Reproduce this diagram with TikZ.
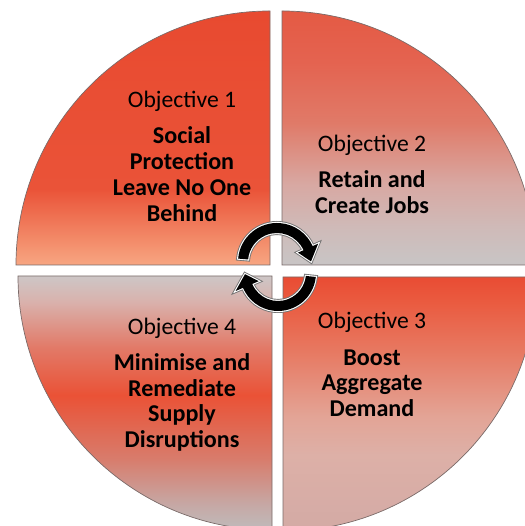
\documentclass[tikz,border=0pt]{standalone}
\usepackage{fontspec}
\setmainfont{Carlito}
\definecolor{tlA}{HTML}{F7A682}\definecolor{tlB}{HTML}{F28564}\definecolor{tlC}{HTML}{EA5338}\definecolor{tlD}{HTML}{E84A30}
\definecolor{trA}{HTML}{C8C5C5}\definecolor{trB}{HTML}{CFBAB8}\definecolor{trC}{HTML}{D8A8A2}\definecolor{trD}{HTML}{E07A68}\definecolor{trE}{HTML}{E46350}\definecolor{trF}{HTML}{E45A44}
\definecolor{blA}{HTML}{BFBBBB}\definecolor{blB}{HTML}{C6A8A5}\definecolor{blC}{HTML}{D87C6C}\definecolor{blD}{HTML}{EA5236}\definecolor{blE}{HTML}{E27A68}\definecolor{blF}{HTML}{D9B2AD}\definecolor{blG}{HTML}{CDC6C6}
\definecolor{brA}{HTML}{D3AAA5}\definecolor{brB}{HTML}{DDB0A7}\definecolor{brC}{HTML}{E3A496}\definecolor{brD}{HTML}{E77A63}\definecolor{brE}{HTML}{EA5B40}\definecolor{brF}{HTML}{E94C33}
\definecolor{edgecol}{HTML}{7A6A68}
\pgfdeclareverticalshading{tlshade}{100bp}{color(0bp)=(tlA); color(25bp)=(tlA); color(31bp)=(tlB); color(40bp)=(tlC); color(75bp)=(tlD); color(100bp)=(tlD)}
\pgfdeclareverticalshading{trshade}{100bp}{color(0bp)=(trA); color(25bp)=(trA); color(32.5bp)=(trB); color(41bp)=(trC); color(53bp)=(trD); color(65bp)=(trE); color(75bp)=(trF); color(100bp)=(trF)}
\pgfdeclareverticalshading{blshade}{100bp}{color(0bp)=(blA); color(25bp)=(blA); color(30bp)=(blB); color(39bp)=(blC); color(51.5bp)=(blD); color(61bp)=(blE); color(70bp)=(blF); color(75bp)=(blG); color(100bp)=(blG)}
\pgfdeclareverticalshading{brshade}{100bp}{color(0bp)=(brA); color(25bp)=(brA); color(40bp)=(brB); color(47.5bp)=(brC); color(60bp)=(brD); color(70bp)=(brE); color(75bp)=(brF); color(100bp)=(brF)}
\tikzset{
  sector/.style={draw=edgecol, line width=0.7bp},
  objtxt/.style={anchor=base, inner sep=0pt, font=\fontsize{23.7}{26}\selectfont},
  boldtxt/.style={anchor=base, inner sep=0pt, font=\fontsize{24.2}{26}\selectfont\bfseries},
  cyclearrow/.style={fill=black, preaction={draw=black!55, line width=4bp}, preaction={draw=white, line width=2.2bp}}
}
\begin{document}
\begin{tikzpicture}[x=1bp,y=1bp]
\useasboundingbox (0,0) rectangle (525,526);
\clip (0,0) rectangle (525,526);
% quadrants
\path[sector, shading=tlshade] (270,261) -- ++(90:254bp) arc[start angle=90, end angle=180, radius=254bp] -- cycle;
\path[sector, shading=trshade] (282,261) -- ++(0:254bp) arc[start angle=0, end angle=90, radius=254bp] -- cycle;
\path[sector, shading=blshade] (272,250) -- ++(180:254bp) arc[start angle=180, end angle=270, radius=254bp] -- cycle;
\path[sector, shading=brshade] (283,249) -- ++(270:254bp) arc[start angle=270, end angle=360, radius=254bp] -- cycle;
% texts
\node[objtxt] (o1) at (182,418) {Objective 1};
\node[boldtxt] (t1a) at (182,382) {Social};
\node[boldtxt] (t1b) at (182,356) {Protection};
\node[boldtxt] (t1c) at (182,330) {Leave No One};
\node[boldtxt] (t1d) at (182,304) {Behind};
\node[objtxt] (o2) at (372,374) {Objective 2};
\node[boldtxt] (t2a) at (372,338) {Retain and};
\node[boldtxt] (t2b) at (372,312) {Create Jobs};
\node[objtxt] (o3) at (372,197) {Objective 3};
\node[boldtxt] (t3a) at (372,160) {Boost};
\node[boldtxt] (t3b) at (372,135) {Aggregate};
\node[boldtxt] (t3c) at (372,109) {Demand};
\node[objtxt] (o4) at (182,191) {Objective 4};
\node[boldtxt] (t4a) at (182,155) {Minimise and};
\node[boldtxt] (t4b) at (182,129) {Remediate};
\node[boldtxt] (t4c) at (182,104) {Supply};
\node[boldtxt] (t4d) at (182,78) {Disruptions};
% cycle arrows
\begin{scope}[shift={(277,264)}]
\path[cyclearrow] (175:29bp) -- (175:39bp) arc[start angle=175, end angle=24, radius=39bp]
  -- (24:45bp) -- (1:34bp) -- (24:23bp) -- (24:29bp) arc[start angle=24, end angle=175, radius=29bp] -- cycle;
\end{scope}
\begin{scope}[shift={(278,253)}]
\path[cyclearrow] (-6:28bp) -- (-6:38bp) arc[start angle=-6, end angle=-157, radius=38bp]
  -- (-157:46bp) -- (-178:33bp) -- (-157:21bp) -- (-157:28bp) arc[start angle=-157, end angle=-6, radius=28bp] -- cycle;
\end{scope}
\end{tikzpicture}
\end{document}
